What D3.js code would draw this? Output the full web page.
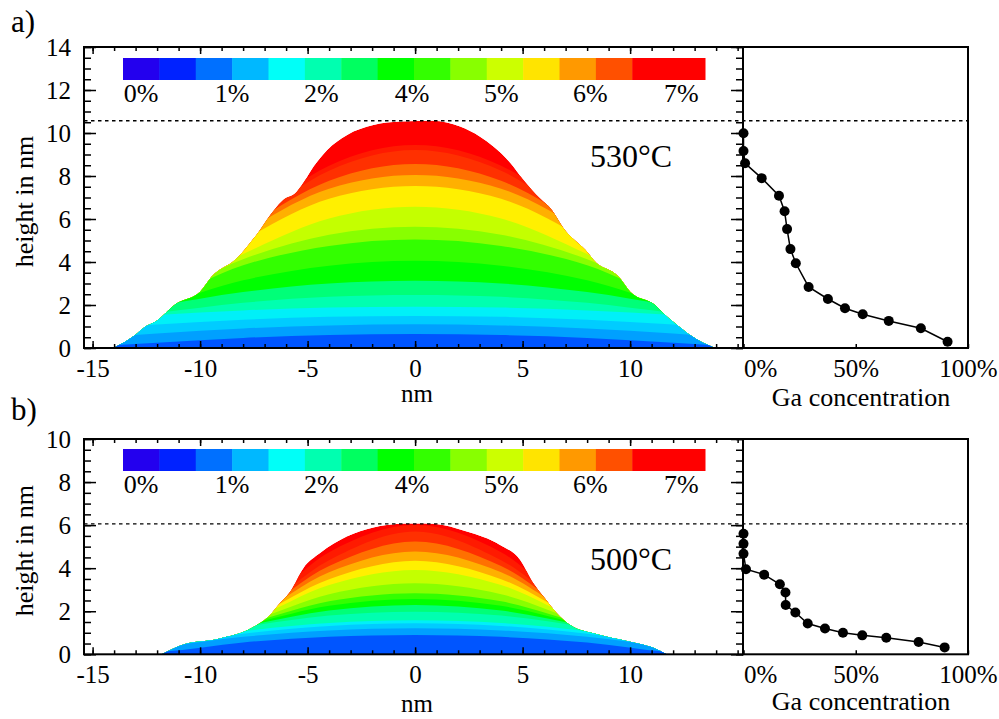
<!DOCTYPE html>
<html>
<head>
<meta charset="utf-8">
<script src="https://cdnjs.cloudflare.com/ajax/libs/d3/7.8.5/d3.min.js"></script>
<style>
  body { margin: 0; background: #fff; }
  svg, svg text { font-family: "Liberation Serif", "Tinos", "Times New Roman", Times, "DejaVu Serif", serif; }
</style>
</head>
<body>
<svg id="chart" width="999" height="719"></svg>
<script>
// ---- data ----
const xMajorTicks = [-15, -10, -5, 0, 5, 10];
const gaTicks = [0, 50, 100];
const gaTickLabels = ["0%", "50%", "100%"];

const colorbarColors = ["#2300ee", "#0022ff", "#0070ff", "#00b8ff", "#00fff8", "#00ffb0",
  "#00ff60", "#00ff00", "#33ff00", "#88ff00", "#ccff00", "#ffe400",
  "#ff9900", "#ff5000", "#ff0000", "#ff0000"];
const colorbarLabels = ["0%", "1%", "2%", "4%", "5%", "6%", "7%"];
const colorbarLabelPos = [0.5, 3, 5.45, 7.95, 10.4, 12.85, 15.35]; // in colour blocks

// layer fills of the islands, bottom (0) to top (15)
const layerColors = ["#0055ff", "#00a0ff", "#00ccff", "#00f0f8", "#00ffb0", "#00ff78",
  "#00ff00", "#33ff00", "#88ff00", "#c4ff00", "#fff000", "#ffb000",
  "#ff7000", "#ff3000", "#ff1a00", "#ff0000"];

// x positions (nm) at which layer boundaries are read
const gridX = [-16, -12, -8, -4, 0, 4, 8, 12, 16];

// panel a) 530°C
const surfaceA = [[-14.03, 0], [-13.02, 0.6], [-12.56, 0.99], [-12.09, 1.22], [-11.08, 2.08],
  [-10.0, 2.62], [-9.46, 3.32], [-8.29, 4.17], [-7.75, 4.79], [-7.21, 5.49], [-6.9, 5.95],
  [-6.13, 6.88], [-5.5, 7.27], [-5.27, 7.58], [-4.73, 8.43], [-4.1, 9.2], [-3.18, 9.9],
  [-1.94, 10.37], [-0.7, 10.53], [0.85, 10.57], [2.09, 10.3], [3.02, 9.83], [3.64, 9.37],
  [4.42, 8.62], [5.04, 7.81], [5.43, 7.35], [5.81, 6.95], [6.36, 6.42], [6.9, 5.57],
  [8.06, 4.4], [8.3, 4.09], [9.46, 3.32], [10.0, 2.62], [11.16, 2.0], [11.63, 1.53],
  [12.0, 1.22], [12.48, 0.84], [12.79, 0.6], [13.95, 0]];
const boundsA = [
  [0.0, 0.25, 0.47, 0.60, 0.65, 0.60, 0.47, 0.25, 0.0],
  [0.35, 0.67, 0.91, 1.05, 1.10, 1.05, 0.91, 0.67, 0.35],
  [0.78, 1.09, 1.31, 1.45, 1.49, 1.45, 1.31, 1.09, 0.78],
  [1.2, 1.53, 1.75, 1.88, 1.92, 1.88, 1.75, 1.53, 1.2],
  [1.25, 1.63, 2.10, 2.38, 2.47, 2.38, 2.10, 1.63, 1.25],
  [1.3, 1.95, 2.60, 3.00, 3.13, 3.00, 2.60, 1.95, 1.3],
  [1.35, 2.0, 3.15, 3.83, 4.06, 3.83, 3.15, 2.0, 1.35],
  [1.4, 2.2, 3.85, 4.75, 5.05, 4.75, 3.85, 2.2, 1.4],
  [1.45, 2.3, 4.13, 5.27, 5.64, 5.27, 4.13, 2.3, 1.45],
  [1.5, 2.35, 4.37, 6.02, 6.57, 6.02, 4.37, 2.35, 1.5],
  [1.55, 2.4, 5.0, 6.94, 7.53, 6.94, 5.0, 2.4, 1.55],
  [1.6, 2.5, 5.35, 7.41, 8.05, 7.41, 5.35, 2.5, 1.6],
  [1.65, 2.6, 5.5, 7.78, 8.56, 7.78, 5.5, 2.6, 1.65],
  [1.7, 2.7, 5.6, 8.25, 9.21, 8.25, 5.6, 2.7, 1.7],
  [1.75, 2.8, 5.75, 8.48, 9.44, 8.48, 5.75, 2.8, 1.75]
];
const gaA = [0, 0, 0.7, 8.1, 15.8, 18.3, 19.4, 20.9, 23.3, 29, 37.6, 45.2, 53.1, 64.7, 79, 90.9];
const hA = [9.99, 9.16, 8.59, 7.9, 7.08, 6.36, 5.53, 4.6, 3.94, 2.84, 2.28, 1.85, 1.57, 1.26, 0.92, 0.29];
const topA = 10.57;

// panel b) 500°C
const surfaceB = [[-11.78, 0], [-10.7, 0.48], [-9.22, 0.70], [-7.36, 1.36], [-6.74, 1.83],
  [-6.36, 2.29], [-5.81, 2.91], [-5.2, 4.0], [-4.42, 4.7], [-3.18, 5.47], [-1.94, 5.89],
  [-0.7, 6.06], [0, 6.08], [0.85, 6.06], [2.4, 5.7], [3.95, 5.08], [4.88, 4.39], [5.5, 3.3],
  [5.97, 2.68], [6.59, 1.91], [7.21, 1.36], [8.6, 0.9], [10.47, 0.48], [11.08, 0.31], [11.7, 0]];
const boundsB = [
  [0.0, 0.1, 0.55, 0.81, 0.90, 0.81, 0.55, 0.1, 0.0],
  [0.0, 0.32, 0.81, 1.11, 1.21, 1.11, 0.81, 0.32, 0.0],
  [0.1, 0.40, 0.96, 1.32, 1.44, 1.32, 0.96, 0.40, 0.1],
  [0.2, 0.45, 1.07, 1.45, 1.58, 1.45, 1.07, 0.45, 0.2],
  [0.3, 0.6, 1.26, 1.80, 1.98, 1.80, 1.26, 0.6, 0.3],
  [0.35, 0.65, 1.30, 2.03, 2.29, 2.03, 1.30, 0.65, 0.35],
  [0.4, 0.7, 1.35, 2.25, 2.57, 2.25, 1.35, 0.7, 0.4],
  [0.45, 0.75, 1.40, 2.46, 2.84, 2.46, 1.40, 0.75, 0.45],
  [0.5, 0.8, 1.45, 2.79, 3.30, 2.79, 1.45, 0.8, 0.5],
  [0.55, 0.85, 1.50, 3.22, 3.92, 3.22, 1.50, 0.85, 0.55],
  [0.6, 0.9, 1.55, 3.49, 4.34, 3.49, 1.55, 0.9, 0.6],
  [0.65, 0.95, 1.60, 3.81, 4.77, 3.81, 1.60, 0.95, 0.65],
  [0.7, 1.0, 1.65, 4.10, 5.24, 4.10, 1.65, 1.0, 0.7],
  [0.75, 1.05, 1.70, 4.37, 5.70, 4.37, 1.70, 1.05, 0.75],
  [0.8, 1.1, 1.75, 4.74, 6.00, 4.74, 1.75, 1.1, 0.8]
];
const gaB = [0, 0, 0, 1.1, 9.2, 16.2, 18.7, 18.8, 23.1, 28.6, 36.3, 44.3, 52.9, 63.6, 78, 89.6];
const hB = [5.6, 5.13, 4.67, 3.95, 3.7, 3.25, 2.87, 2.29, 1.94, 1.43, 1.2, 1.0, 0.88, 0.77, 0.57, 0.32];
const topB = 6.06;

// ---- drawing ----
const FONT = '"Liberation Serif", "Tinos", "Times New Roman", Times, "DejaVu Serif", serif';
const svg = d3.select("#chart").attr("font-family", FONT);
const xNm = d3.scaleLinear().domain([-15.4, 15.25]).range([84, 743]);
const xGa = d3.scaleLinear().domain([0, 100]).range([743.5, 968]);
const cbX = d3.scaleLinear().domain([0, 16]).range([123, 705]);

function styleAxis(sel, size) {
  sel.attr("font-family", FONT).attr("font-size", size);
  sel.select(".domain").remove();
  sel.selectAll(".tick line").attr("stroke", "#000").attr("stroke-width", 1.5);
  sel.selectAll(".tick text").attr("fill", "#000");
}

function drawPanel(p) {
  const y = d3.scaleLinear().domain([0, p.yMax]).range([p.bottom, p.top]);
  const g = svg.append("g");
  const clipId = "clip-" + p.name;

  const surfArea = d3.area().x(d => xNm(d[0])).y0(y(0)).y1(d => y(d[1]))
    .curve(d3.curveMonotoneX);
  g.append("clipPath").attr("id", clipId).append("path").attr("d", surfArea(p.surface));

  const mound = g.append("g").attr("clip-path", `url(#${clipId})`);
  mound.append("path").attr("d", surfArea(p.surface)).attr("fill", layerColors[15]);
  const layerArea = d3.area()
    .x((d, i) => xNm(gridX[i]))
    .y0(y(0))
    .y1(d => y(d))
    .curve(d3.curveMonotoneX);
  for (let k = p.bounds.length - 1; k >= 0; k--) {
    mound.append("path").attr("d", layerArea(p.bounds[k])).attr("fill", layerColors[k]);
  }

  // colour bar
  g.selectAll(".cb").data(colorbarColors).enter().append("rect")
    .attr("x", (d, i) => cbX(i))
    .attr("y", p.cbTop)
    .attr("width", cbX(1) - cbX(0) + 0.5)
    .attr("height", 22)
    .attr("fill", d => d);
  g.selectAll(".cbl").data(colorbarLabels).enter().append("text")
    .attr("x", (d, i) => cbX(colorbarLabelPos[i]))
    .attr("y", p.cbTop + 44)
    .attr("text-anchor", "middle")
    .attr("font-size", 26)
    .text(d => d);

  // axes of the left plot (ticks pointing inward)
  const minorX = d3.range(-15, 16);
  const majorY = d3.range(0, p.yMax + 0.01, 2);
  const minorY = d3.range(0, p.yMax + 0.01, 0.5);

  g.append("g").attr("transform", `translate(0,${p.bottom})`)
    .call(d3.axisBottom(xNm).tickValues(minorX).tickSize(-4).tickFormat(""))
    .call(styleAxis, 25);
  g.append("g").attr("transform", `translate(0,${p.bottom})`)
    .call(d3.axisBottom(xNm).tickValues(xMajorTicks).tickSize(-7).tickPadding(11).tickFormat(d => String(d)))
    .call(styleAxis, 25);
  g.append("g").attr("transform", `translate(0,${p.top})`)
    .call(d3.axisTop(xNm).tickValues(minorX).tickSize(-4).tickFormat(""))
    .call(styleAxis, 25);
  g.append("g").attr("transform", `translate(0,${p.top})`)
    .call(d3.axisTop(xNm).tickValues(xMajorTicks).tickSize(-7).tickFormat(""))
    .call(styleAxis, 25);

  g.append("g").attr("transform", "translate(84,0)")
    .call(d3.axisLeft(y).tickValues(minorY).tickSize(-7).tickFormat(""))
    .call(styleAxis, 25);
  g.append("g").attr("transform", "translate(84,0)")
    .call(d3.axisLeft(y).tickValues(majorY).tickSize(-12).tickPadding(13).tickFormat(d => String(d)))
    .call(styleAxis, 25);
  g.append("g").attr("transform", "translate(743,0)")
    .call(d3.axisRight(y).tickValues(minorY).tickSize(-7).tickFormat(""))
    .call(styleAxis, 25);
  g.append("g").attr("transform", "translate(743,0)")
    .call(d3.axisRight(y).tickValues(majorY).tickSize(-12).tickFormat(""))
    .call(styleAxis, 25);

  // right plot axis
  const gaAxis = g.append("g").attr("transform", `translate(0,${p.bottom})`)
    .call(d3.axisBottom(xGa).tickValues(gaTicks).tickSize(-4).tickPadding(11)
      .tickFormat((d, i) => gaTickLabels[i]))
    .call(styleAxis, 25);
  gaAxis.selectAll(".tick text").attr("text-anchor", d => d === 0 ? "start" : "middle");

  // frames
  g.append("rect").attr("x", 84).attr("y", p.top).attr("width", 743 - 84).attr("height", p.bottom - p.top)
    .attr("fill", "none").attr("stroke", "#000").attr("stroke-width", 2);
  g.append("rect").attr("x", 743).attr("y", p.top).attr("width", 968 - 743).attr("height", p.bottom - p.top)
    .attr("fill", "none").attr("stroke", "#000").attr("stroke-width", 2);

  // dotted line at island top
  g.append("line").attr("x1", 84).attr("x2", 968).attr("y1", y(p.topLevel)).attr("y2", y(p.topLevel))
    .attr("stroke", "#000").attr("stroke-width", 1.3).attr("stroke-dasharray", "3.5,3.5");

  // Ga concentration profile
  const pts = p.ga.map((d, i) => [d, p.h[i]]);
  g.append("path")
    .attr("d", d3.line().x(d => xGa(d[0])).y(d => y(d[1]))(pts))
    .attr("fill", "none").attr("stroke", "#000").attr("stroke-width", 1.5);
  g.selectAll(".pt").data(pts).enter().append("circle")
    .attr("cx", d => xGa(d[0])).attr("cy", d => y(d[1])).attr("r", 5).attr("fill", "#000");

  // texts
  g.append("text").attr("x", 11).attr("y", p.letterY).attr("font-size", 31).text(p.letter);
  g.append("text").attr("x", 590).attr("y", p.tempY).attr("font-size", 32).text(p.temp);
  const cy = (p.top + p.bottom) / 2 + 4;
  g.append("text").attr("transform", `translate(33,${cy}) rotate(-90)`)
    .attr("text-anchor", "middle").attr("font-size", 26).text("height in nm");
  g.append("text").attr("x", 417).attr("y", p.nmY).attr("text-anchor", "middle")
    .attr("font-size", 25).text("nm");
  g.append("text").attr("x", 861).attr("y", p.gaY).attr("text-anchor", "middle")
    .attr("font-size", 26).text("Ga concentration");
}

drawPanel({ name: "a", top: 47, bottom: 348, yMax: 14, surface: surfaceA, bounds: boundsA,
  ga: gaA, h: hA, topLevel: topA, cbTop: 58, letter: "a)", letterY: 32, temp: "530°C", tempY: 167,
  nmY: 402, gaY: 406 });
drawPanel({ name: "b", top: 439, bottom: 654.3, yMax: 10, surface: surfaceB, bounds: boundsB,
  ga: gaB, h: hB, topLevel: topB, cbTop: 449, letter: "b)", letterY: 420, temp: "500°C", tempY: 570,
  nmY: 712, gaY: 710 });
</script>
</body>
</html>
